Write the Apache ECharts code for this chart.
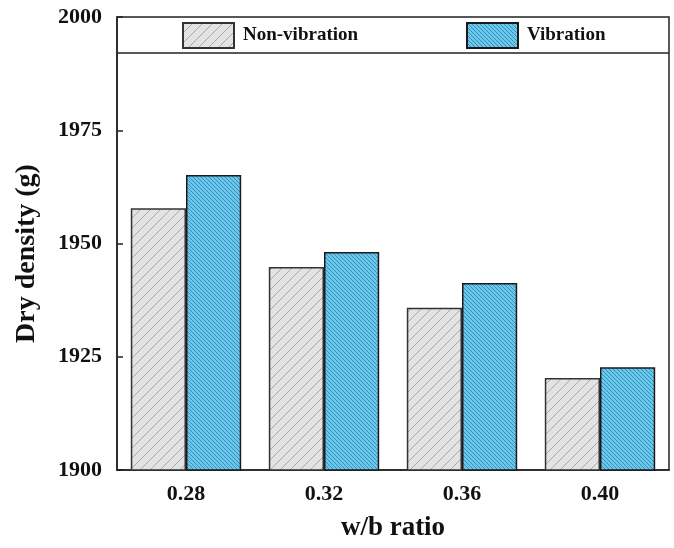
<!DOCTYPE html>
<html>
<head>
<meta charset="utf-8">
<script src="https://cdn.jsdelivr.net/npm/echarts@6/dist/echarts.min.js"></script>
<style>
html,body{margin:0;padding:0;background:#fff;}
#chart{width:674px;height:548px;}
</style>
</head>
<body>
<div id="chart"></div>
<script>
const categories = ['0.28', '0.32', '0.36', '0.40'];
const nonVibration = [1957.8, 1944.8, 1935.8, 1920.3];
const vibration = [1965.1, 1948.1, 1941.3, 1922.7];
const seriesNames = ['Non-vibration', 'Vibration'];
const yTicks = [1900, 1925, 1950, 1975, 2000];
const legendDivider = 1992;

function hatch(bg, line, spacing, dir, lw) {
  const c = document.createElement('canvas');
  c.width = spacing; c.height = spacing;
  const ctx = c.getContext('2d');
  ctx.fillStyle = bg;
  ctx.fillRect(0, 0, spacing, spacing);
  ctx.strokeStyle = line;
  ctx.lineWidth = lw;
  ctx.beginPath();
  for (let k = -1; k <= 1; k++) {
    if (dir === '/') {
      ctx.moveTo(k * spacing, spacing);
      ctx.lineTo(k * spacing + spacing, 0);
    } else {
      ctx.moveTo(k * spacing, 0);
      ctx.lineTo(k * spacing + spacing, spacing);
    }
  }
  ctx.stroke();
  return { image: c, repeat: 'repeat' };
}

const grayFill = hatch('#e3e3e3', '#9a9a9a', 10, '/', 0.8);
const blueFill = hatch('#6ac8ef', '#2f7fa6', 4, '\\', 0.8);

const font = '"Liberation Serif", "Times New Roman", serif';
const chart = echarts.init(document.getElementById('chart'), null, { renderer: 'canvas' });
chart.setOption({
  backgroundColor: '#fff',
  animation: false,
  grid: { left: 117, right: 5, top: 17, bottom: 78, show: true, borderColor: '#222', borderWidth: 1.5, backgroundColor: 'transparent' },
  legend: [
    { data: [seriesNames[0]], left: 177, top: 17, itemWidth: 51, itemHeight: 25, icon: 'rect',
      textStyle: { fontFamily: font, fontWeight: 'bold', fontSize: 19, color: '#111', padding: [0, 0, 0, 4] } },
    { data: [seriesNames[1]], left: 461, top: 17, itemWidth: 51, itemHeight: 25, icon: 'rect',
      textStyle: { fontFamily: font, fontWeight: 'bold', fontSize: 19, color: '#111', padding: [0, 0, 0, 4] } }
  ],
  xAxis: {
    type: 'category',
    data: categories,
    name: 'w/b ratio',
    nameLocation: 'middle',
    nameGap: 45,
    nameTextStyle: { fontFamily: font, fontWeight: 'bold', fontSize: 27, color: '#111' },
    axisLine: { lineStyle: { color: '#222', width: 1.5 } },
    axisTick: { show: false },
    axisLabel: { fontFamily: font, fontWeight: 'bold', fontSize: 22, color: '#111', margin: 13 }
  },
  yAxis: {
    type: 'value',
    min: yTicks[0],
    max: yTicks[yTicks.length - 1],
    interval: 25,
    name: 'Dry density (g)',
    nameLocation: 'middle',
    nameGap: 76,
    nameTextStyle: { fontFamily: font, fontWeight: 'bold', fontSize: 28, color: '#111', padding: [0, 20, 0, 0] },
    axisLine: { show: true, lineStyle: { color: '#222', width: 1.5 } },
    axisTick: { show: true, inside: true, length: 6, lineStyle: { color: '#222', width: 1.5 } },
    splitLine: { show: false },
    axisLabel: { fontFamily: font, fontWeight: 'bold', fontSize: 22, color: '#111', margin: 15,
      formatter: function (v) { return String(v); } }
  },
  series: [
    {
      name: seriesNames[0],
      type: 'bar',
      data: nonVibration,
      barGap: '0%',
      barCategoryGap: '20%',
      itemStyle: { color: grayFill, borderColor: '#333', borderWidth: 1.5 },
      markLine: {
        silent: true, symbol: 'none', label: { show: false },
        lineStyle: { color: '#222', width: 1.5, type: 'solid' },
        data: [{ yAxis: legendDivider }]
      }
    },
    {
      name: seriesNames[1],
      type: 'bar',
      data: vibration,
      barGap: '0%',
      barCategoryGap: '20%',
      itemStyle: { color: blueFill, borderColor: '#1a1a1a', borderWidth: 1.5 }
    }
  ]
});
</script>
</body>
</html>
